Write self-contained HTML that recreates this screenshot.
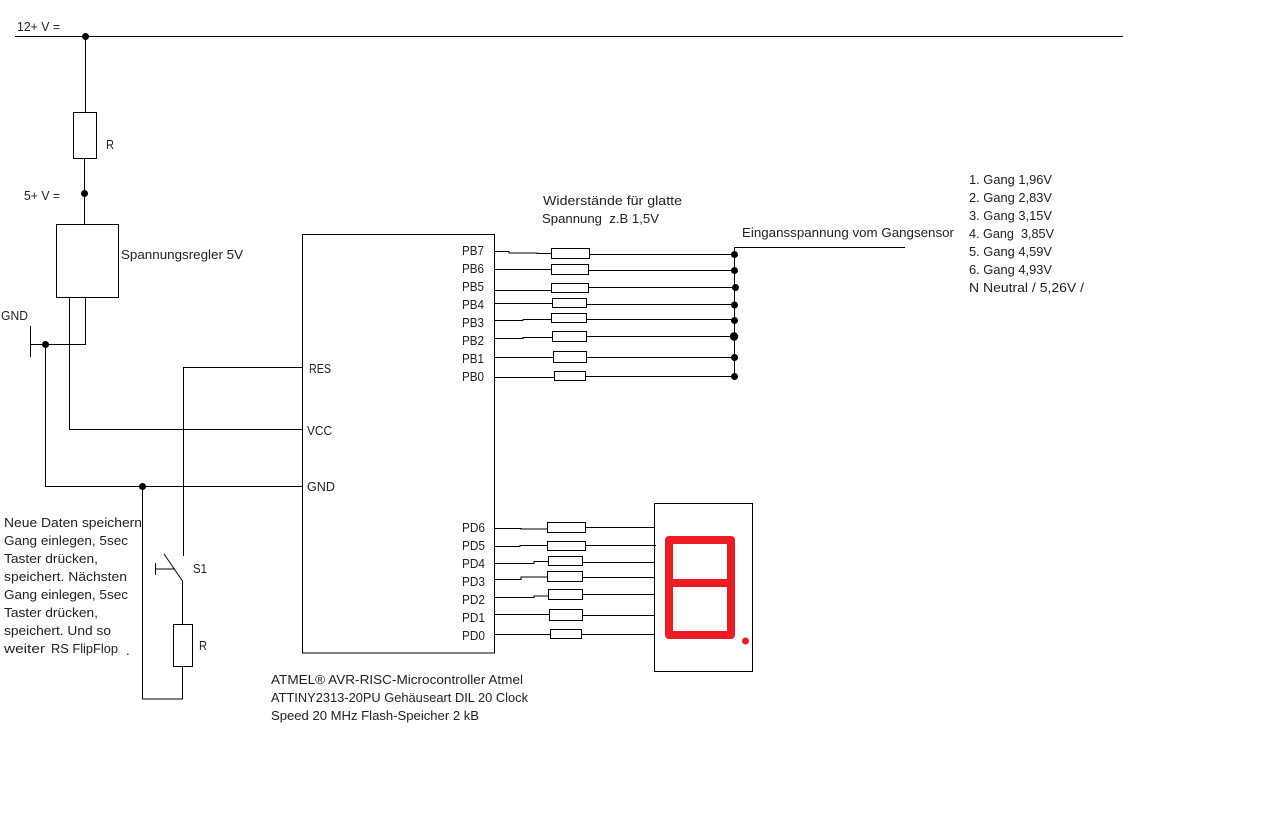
<!DOCTYPE html>
<html><head><meta charset="utf-8"><title>Schaltplan</title>
<style>html,body{margin:0;padding:0;background:#fff}svg{display:block}
text{font-family:"Liberation Sans",sans-serif;font-size:13px;fill:#222}
.w{stroke:#000;stroke-width:1;fill:none}.r{stroke:#000;stroke-width:1;fill:#fff}</style></head>
<body><svg width="1274" height="814" viewBox="0 0 1274 814" xmlns="http://www.w3.org/2000/svg">
<path class="w" d="M15 36.5H1123M85.5 36V112M84.5 158V224M69.5 297V429.5H302.5M85.5 297V344.5H30.5M30.5 326V357M45.5 344V486.5H302.5M142.5 486V699H182.5V666M183.5 556V367.5H302.5M164 554L182.5 581V624M155 569H175M155.5 563V575"/>
<rect class="r" x="73.5" y="112.5" width="23" height="46"/>
<rect class="r" x="56.5" y="224.5" width="62" height="73"/>
<rect class="r" x="302.5" y="234.5" width="192" height="418.5"/>
<rect class="r" x="173.5" y="624.5" width="19" height="42"/>
<rect class="r" x="654.5" y="503.5" width="98" height="168"/>
<path class="w" d="M494 251.5H509V253H537V253.5H551M589 254.5H734.5M494 269.5H551M588 270.5H734.5M494 290.5H551M588 287.5H735M494 303.5H552M586 304.5H734M494 320.5H523V319.5H551M586 319.5H734M494 338.5H523V337.5H552M586 336.5H734M494 357.5H553M586 357.5H734M494 377.5H554M585 376.5H734M734.5 247V376M734.5 247.5H905"/>
<rect class="r" x="551.5" y="248.5" width="38" height="10"/>
<rect class="r" x="551.5" y="264.5" width="37" height="10"/>
<rect class="r" x="551.5" y="283.5" width="37" height="9"/>
<rect class="r" x="552.5" y="298.5" width="34" height="9"/>
<rect class="r" x="551.5" y="313.5" width="35" height="9"/>
<rect class="r" x="552.5" y="331.5" width="34" height="10"/>
<rect class="r" x="553.5" y="351.5" width="33" height="11"/>
<rect class="r" x="554.5" y="371.5" width="31" height="9"/>
<g fill="#000">
<circle cx="85.5" cy="36.5" r="3.5"/><circle cx="84.5" cy="193.5" r="3.5"/><circle cx="45.5" cy="344.5" r="3.5"/><circle cx="142.5" cy="486.5" r="3.5"/>
<circle cx="734.5" cy="254.5" r="3.5"/><circle cx="734.5" cy="270.5" r="3.5"/><circle cx="735.5" cy="287.5" r="3.5"/><circle cx="734.5" cy="305" r="3.5"/><circle cx="734.5" cy="320.5" r="3.5"/><circle cx="734" cy="336.5" r="4.2"/><circle cx="734.5" cy="357.5" r="3.5"/><circle cx="734.5" cy="376.5" r="3.5"/>
</g>
<path class="w" d="M494 528.5H521V529H547M585 527.5H654M494 546.5H520V545.5H547M585 545.5H656M494 563.5H534V561.5H548M582 562.5H654M494 579.5H521V577H548M582 577.5H654M494 597.5H534V596H548M582 594.5H654M494 614.5H549M582 615.5H654M494 634.5H550M581 634.5H654"/>
<rect class="r" x="547.5" y="522.5" width="38" height="10"/>
<rect class="r" x="547.5" y="541.5" width="38" height="9"/>
<rect class="r" x="548.5" y="556.5" width="34" height="9"/>
<rect class="r" x="547.5" y="571.5" width="35" height="10"/>
<rect class="r" x="548.5" y="589.5" width="34" height="10"/>
<rect class="r" x="549.5" y="609.5" width="33" height="11"/>
<rect class="r" x="550.5" y="629.5" width="31" height="9"/>
<path d="M669 540H731V635H669ZM669 583H731" fill="none" stroke="#ed1c24" stroke-width="8" stroke-linejoin="round"/>
<circle cx="745.5" cy="641" r="3.5" fill="#ed1c24"/>
<g lengthAdjust="spacingAndGlyphs">
<text x="17" y="31" textLength="43" lengthAdjust="spacingAndGlyphs">12+ V =</text>
<text x="106" y="149" textLength="8" lengthAdjust="spacingAndGlyphs">R</text>
<text x="24" y="200" textLength="36" lengthAdjust="spacingAndGlyphs">5+ V =</text>
<text x="121" y="259" textLength="122" lengthAdjust="spacingAndGlyphs">Spannungsregler 5V</text>
<text x="1" y="320" textLength="27" lengthAdjust="spacingAndGlyphs">GND</text>
<text x="309" y="373" textLength="22" lengthAdjust="spacingAndGlyphs">RES</text>
<text x="307" y="435" textLength="25" lengthAdjust="spacingAndGlyphs">VCC</text>
<text x="307" y="491" textLength="28" lengthAdjust="spacingAndGlyphs">GND</text>
<text x="462" y="255" textLength="22" lengthAdjust="spacingAndGlyphs">PB7</text>
<text x="462" y="273" textLength="22" lengthAdjust="spacingAndGlyphs">PB6</text>
<text x="462" y="291" textLength="22" lengthAdjust="spacingAndGlyphs">PB5</text>
<text x="462" y="309" textLength="22" lengthAdjust="spacingAndGlyphs">PB4</text>
<text x="462" y="327" textLength="22" lengthAdjust="spacingAndGlyphs">PB3</text>
<text x="462" y="345" textLength="22" lengthAdjust="spacingAndGlyphs">PB2</text>
<text x="462" y="363" textLength="22" lengthAdjust="spacingAndGlyphs">PB1</text>
<text x="462" y="381" textLength="22" lengthAdjust="spacingAndGlyphs">PB0</text>
<text x="462" y="532" textLength="23" lengthAdjust="spacingAndGlyphs">PD6</text>
<text x="462" y="550" textLength="23" lengthAdjust="spacingAndGlyphs">PD5</text>
<text x="462" y="568" textLength="23" lengthAdjust="spacingAndGlyphs">PD4</text>
<text x="462" y="586" textLength="23" lengthAdjust="spacingAndGlyphs">PD3</text>
<text x="462" y="604" textLength="23" lengthAdjust="spacingAndGlyphs">PD2</text>
<text x="462" y="622" textLength="23" lengthAdjust="spacingAndGlyphs">PD1</text>
<text x="462" y="640" textLength="23" lengthAdjust="spacingAndGlyphs">PD0</text>
<text x="543" y="205" textLength="139" lengthAdjust="spacingAndGlyphs">Widerstände für glatte</text>
<text x="542" y="223" textLength="117" lengthAdjust="spacingAndGlyphs" xml:space="preserve">Spannung  z.B 1,5V</text>
<text x="742" y="237" textLength="212" lengthAdjust="spacingAndGlyphs">Eingansspannung vom Gangsensor</text>
<text x="969" y="184" textLength="83" lengthAdjust="spacingAndGlyphs">1. Gang 1,96V</text>
<text x="969" y="202" textLength="83" lengthAdjust="spacingAndGlyphs">2. Gang 2,83V</text>
<text x="969" y="220" textLength="83" lengthAdjust="spacingAndGlyphs">3. Gang 3,15V</text>
<text x="969" y="238" textLength="85" lengthAdjust="spacingAndGlyphs" xml:space="preserve">4. Gang  3,85V</text>
<text x="969" y="256" textLength="83" lengthAdjust="spacingAndGlyphs">5. Gang 4,59V</text>
<text x="969" y="274" textLength="83" lengthAdjust="spacingAndGlyphs">6. Gang 4,93V</text>
<text x="969" y="292" textLength="115" lengthAdjust="spacingAndGlyphs">N Neutral / 5,26V /</text>
<text x="271" y="684" textLength="252" lengthAdjust="spacingAndGlyphs">ATMEL® AVR-RISC-Microcontroller Atmel</text>
<text x="271" y="702" textLength="257" lengthAdjust="spacingAndGlyphs">ATTINY2313-20PU Gehäuseart DIL 20 Clock</text>
<text x="271" y="720" textLength="208" lengthAdjust="spacingAndGlyphs">Speed 20 MHz Flash-Speicher 2 kB</text>
<text x="4" y="527" textLength="138" lengthAdjust="spacingAndGlyphs">Neue Daten speichern</text>
<text x="4" y="545" textLength="124" lengthAdjust="spacingAndGlyphs">Gang einlegen, 5sec</text>
<text x="4" y="563" textLength="94" lengthAdjust="spacingAndGlyphs">Taster drücken,</text>
<text x="4" y="581" textLength="123" lengthAdjust="spacingAndGlyphs">speichert. Nächsten</text>
<text x="4" y="599" textLength="124" lengthAdjust="spacingAndGlyphs">Gang einlegen, 5sec</text>
<text x="4" y="617" textLength="94" lengthAdjust="spacingAndGlyphs">Taster drücken,</text>
<text x="4" y="635" textLength="107" lengthAdjust="spacingAndGlyphs">speichert. Und so</text>
<text x="4" y="653" textLength="41" lengthAdjust="spacingAndGlyphs">weiter</text>
<text x="51" y="653" textLength="67" lengthAdjust="spacingAndGlyphs">RS FlipFlop</text>
<text x="126" y="655">.</text>
<text x="193" y="573" textLength="14" lengthAdjust="spacingAndGlyphs">S1</text>
<text x="199" y="650" textLength="8" lengthAdjust="spacingAndGlyphs">R</text>
</g>
</svg></body></html>
